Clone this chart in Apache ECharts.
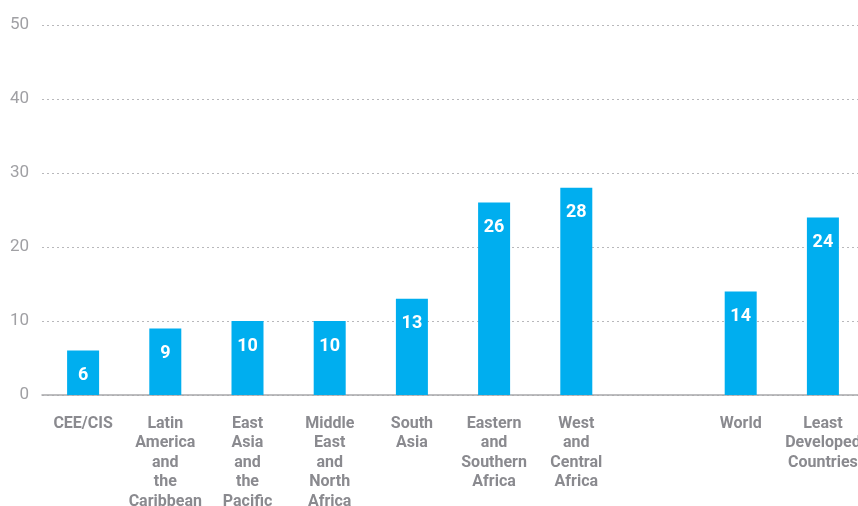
<!DOCTYPE html>
<html>
<head>
<meta charset="utf-8">
<script src="https://cdn.jsdelivr.net/npm/echarts@6/dist/echarts.min.js"></script>
<style>
  html, body { margin: 0; padding: 0; background: #fff; }
  #chart { width: 858px; height: 506px; }
</style>
</head>
<body>
<div id="chart"></div>
<script>
// regions, with an empty slot before the world figures
var categories = [
  'CEE/CIS',
  'Latin\nAmerica\nand\nthe\nCaribbean',
  'East\nAsia\nand\nthe\nPacific',
  'Middle\nEast\nand\nNorth\nAfrica',
  'South\nAsia',
  'Eastern\nand\nSouthern\nAfrica',
  'West\nand\nCentral\nAfrica',
  '',
  'World',
  'Least\nDeveloped\nCountries'
];
var values = [6, 9, 10, 10, 13, 26, 28, '-', 14, 24];
var yTicks = [0, 10, 20, 30, 40, 50];

var option = {
  animation: false,
  grid: { left: 42, top: 25, width: 822, bottom: 111, outerBoundsMode: 'none' },
  xAxis: {
    type: 'category',
    data: categories,
    axisTick: { show: false },
    axisLine: { lineStyle: { color: '#a8a8ab', width: 1.5 } },
    axisLabel: {
      interval: 0,
      margin: 19,
      color: '#8a8a8f',
      fontFamily: 'Roboto',
      fontWeight: 'bold',
      fontSize: 16,
      lineHeight: 19.5,
      align: 'center'
    }
  },
  yAxis: {
    type: 'value',
    min: yTicks[0],
    max: yTicks[yTicks.length - 1],
    interval: 10,
    axisLine: { show: false },
    axisTick: { show: false },
    axisLabel: {
      margin: 13,
      padding: [0, 0, 8, 0],
      color: '#a0a0a4',
      fontFamily: 'Roboto',
      fontSize: 17
    },
    splitLine: {
      lineStyle: { type: [2, 3], color: '#b8b8bb', width: 1 }
    }
  },
  series: [
    {
      type: 'bar',
      data: values,
      barWidth: 32,
      itemStyle: { color: '#00aeef' },
      label: {
        show: true,
        position: 'insideTop',
        distance: 16,
        color: '#fff',
        fontFamily: 'Roboto',
        fontWeight: 'bold',
        fontSize: 18
      }
    }
  ]
};

var myChart = echarts.init(document.getElementById('chart'));
myChart.setOption(option, true);
</script>
</body>
</html>
